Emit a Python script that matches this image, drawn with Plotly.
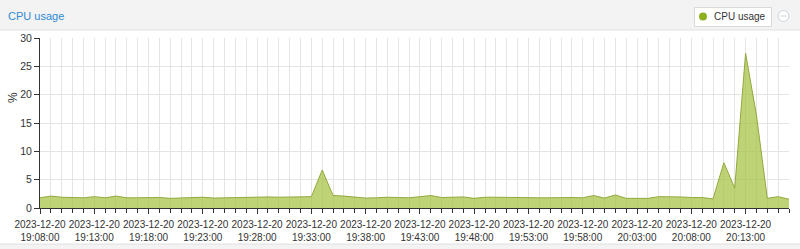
import pandas as pd
import plotly.graph_objects as go

cpu = [1.8, 2.1, 1.9, 1.8, 1.8, 2.0, 1.8, 2.1, 1.8, 1.8,
       1.85, 1.85, 1.7, 1.8, 1.8, 1.9, 1.75, 1.8, 1.9, 1.9,
       2.0, 1.95, 1.9, 1.9, 1.9, 2.0, 6.7, 2.2, 2.1, 1.9,
       1.75, 1.8, 1.9, 1.85, 1.8, 2.0, 2.2, 1.85, 1.9, 1.95,
       1.7, 1.9, 1.9, 1.85, 1.8, 1.75, 1.8, 1.8, 1.85, 1.85,
       1.8, 2.2, 1.75, 2.3, 1.7, 1.7, 1.7, 2.0, 2.0, 1.95,
       1.85, 1.85, 1.6, 8.0, 3.5, 27.3, 16.4, 1.7, 2.0, 1.55]
times = pd.date_range("2023-12-20 19:08:00", periods=len(cpu), freq="1min")
y_ticks = [0, 5, 10, 15, 20, 25, 30]
title_text = "CPU usage"
series_name = "CPU usage"
y_title = "%"

W, H = 800, 249
L, R, T, B = 40, 789, 38, 208


def px(x):
    return (x - L) / (R - L)


def py(y):
    return (B - y) / (B - T)


fig = go.Figure()
fig.add_trace(go.Scatter(
    x=times, y=cpu, mode="lines", fill="tozeroy", name=series_name,
    line=dict(color="#93a83c", width=1),
    fillcolor="rgba(168,196,72,0.75)",
    showlegend=False, hoverinfo="skip"))

grid = "#e4e4e4"
fig.update_layout(
    width=W, height=H,
    margin=dict(l=L, r=W - R, t=T, b=H - B, autoexpand=False),
    paper_bgcolor="white", plot_bgcolor="white",
    font=dict(family="Liberation Sans, Arial, sans-serif", size=10, color="#333"),
    showlegend=False,
    xaxis=dict(
        type="date",
        range=[times[0], times[-1]],
        tick0=times[0], dtick=300000,
        tickformat="%Y-%m-%d<br>%H:%M:%S",
        tickangle=0, automargin=False, ticklabelstandoff=2,
        showgrid=True, gridcolor=grid, gridwidth=1,
        ticks="outside", ticklen=5, tickcolor="#333",
        showline=True, linecolor="#333", linewidth=1,
        tickfont=dict(size=10, color="#333"),
        zeroline=False,
        minor=dict(dtick=60000, showgrid=True, gridcolor=grid,
                   ticks="outside", ticklen=4, tickcolor="#333"),
    ),
    yaxis=dict(
        range=[0, 30], tickvals=y_ticks, automargin=False,
        showgrid=True, gridcolor=grid, gridwidth=1,
        ticks="outside", ticklen=5, tickcolor="#333",
        showline=True, linecolor="#333", linewidth=1,
        tickfont=dict(size=10.5, color="#333"),
        zeroline=False,
    ),
    shapes=[
        # header band
        dict(type="rect", xref="paper", yref="paper",
             x0=px(0), x1=px(800), y0=py(30), y1=py(0),
             fillcolor="#f3f3f3", line=dict(width=0), layer="below"),
        dict(type="line", xref="paper", yref="paper",
             x0=px(0), x1=px(800), y0=py(30), y1=py(30),
             line=dict(color="#e0e0e0", width=1)),
        # bottom border
        dict(type="rect", xref="paper", yref="paper",
             x0=px(0), x1=px(800), y0=py(249), y1=py(244),
             fillcolor="#f3f3f3", line=dict(width=0), layer="below"),
        dict(type="line", xref="paper", yref="paper",
             x0=px(0), x1=px(800), y0=py(244), y1=py(244),
             line=dict(color="#e0e0e0", width=1)),
        # legend box
        dict(type="rect", xref="paper", yref="paper",
             x0=px(694.5), x1=px(771.5), y0=py(26.5), y1=py(7.5),
             fillcolor="white", line=dict(color="#d9d9d9", width=1)),
        dict(type="circle", xref="paper", yref="paper",
             x0=px(699), x1=px(707), y0=py(20.5), y1=py(12.5),
             fillcolor="#8fb01e", line=dict(width=0)),
        # collapse icon
        dict(type="circle", xref="paper", yref="paper",
             x0=px(778), x1=px(789), y0=py(21.5), y1=py(10.5),
             line=dict(color="#c8d4e0", width=1), fillcolor="white"),
        dict(type="line", xref="paper", yref="paper",
             x0=px(780.5), x1=px(786.5), y0=py(16), y1=py(16),
             line=dict(color="#c8d4e0", width=1)),
    ],
    annotations=[
        dict(text=title_text, xref="paper", yref="paper",
             x=px(6), y=py(15.5), xanchor="left", yanchor="middle",
             showarrow=False, font=dict(size=11, color="#2f8ad2")),
        dict(text=series_name, xref="paper", yref="paper",
             x=px(712), y=py(16.5), xanchor="left", yanchor="middle",
             showarrow=False, font=dict(size=10, color="#333")),
        dict(text=y_title, xref="paper", yref="paper",
             x=px(13), y=py(98), xanchor="center", yanchor="middle",
             textangle=-90, showarrow=False, font=dict(size=12, color="#333")),
    ],
)

fig.write_html("out.html")
